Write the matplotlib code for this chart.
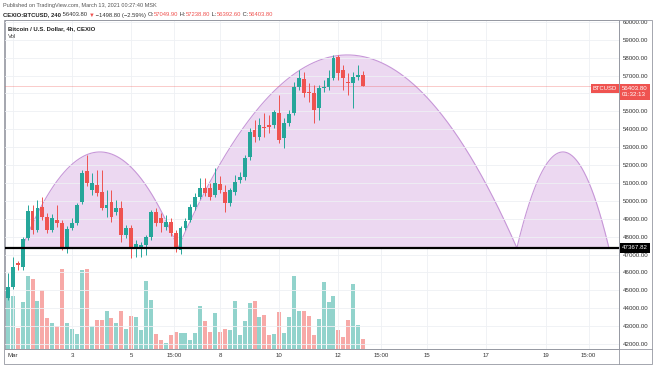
import numpy as np
import matplotlib
matplotlib.use('Agg')
import matplotlib.pyplot as plt
from matplotlib import transforms
from matplotlib.patches import Rectangle
from matplotlib.lines import Line2D

plt.rcParams['font.family'] = ['Liberation Sans', 'DejaVu Sans']

# 4h candles, first one is Feb 28 20:00, last one Mar 12 20:00
opens = [44570, 45185, 46525, 46300, 47920, 49430, 48370, 49650, 49095, 48370,
         48930, 48760, 47420, 48480, 48760, 49930, 51665, 50600, 50880, 50490,
         49600, 49930, 49375, 49600, 48090, 48480, 47420, 47420, 47530, 47980,
         49375, 49040, 48540, 48820, 48200, 47250, 48480, 48930, 49650, 50210,
         50720, 50720, 50325, 50940, 50490, 49880, 50490, 51160, 51330, 52450,
         53960, 53565, 54125, 54236, 54236, 54906, 53510, 54350, 54906, 56360,
         56806, 56080, 56023, 55185, 56303, 56360, 56861, 58035, 57308, 56638,
         56582, 56917, 57049.90]
closes = [45185, 46300, 46414, 47866, 49430, 48370, 49600, 49095, 48370, 49040,
          48760, 47364, 48425, 48760, 49766, 51554, 50995, 50995, 50436, 49600,
          49766, 49095, 49600, 48090, 48480, 47420, 47587, 47531, 47980, 49375,
          48760, 48760, 48816, 48200, 47420, 48480, 48872, 49654, 50213, 50716,
          50436, 50213, 50995, 50604, 49878, 50604, 51051, 51330, 52392, 53844,
          53565, 54236, 54068, 54124, 54962, 53397, 54347, 54850, 56359, 56861,
          56023, 56023, 55074, 56303, 56359, 56861, 57979, 57141, 56861, 56582,
          56917, 57029, 56403.80]
highs = [45970, 46860, 46640, 47980, 49770, 49770, 50045, 50213, 49320, 49263,
         49766, 48928, 48592, 49040, 49878, 51721, 52559, 51554, 51721, 51721,
         50604, 50604, 50045, 49990, 48648, 48648, 47810, 47699, 48090, 49486,
         49598, 49320, 49207, 49040, 48369, 48592, 49040, 49822, 50436, 51274,
         51274, 50995, 51833, 51386, 50883, 50716, 51442, 51609, 52559, 54068,
         54515, 54627, 54906, 54794, 55074, 55912, 54627, 55074, 56638, 57308,
         57197, 56582, 56470, 56470, 56750, 57308, 58146, 58146, 57588, 57141,
         57197, 57588, 57238.80]
lows = [44460, 45070, 46134, 46134, 47810, 48146, 48258, 48928, 48202, 48258,
        48537, 47252, 47084, 48369, 48648, 49822, 50827, 50325, 50269, 49486,
        49095, 48816, 49207, 47699, 47922, 46805, 46861, 46861, 46973, 47810,
        48593, 48258, 48369, 48034, 47140, 47028, 48369, 48816, 49486, 50101,
        50269, 50045, 50213, 50436, 49375, 49710, 50325, 50995, 51163, 52280,
        53286, 53397, 53565, 53788, 54068, 53230, 52950, 54180, 54794, 56191,
        55800, 55520, 54347, 54515, 56079, 56191, 56750, 56750, 56191, 55912,
        55185, 56750, 56392.60]
volumes = [155, 160, 65, 142, 222, 214, 147, 180, 93, 80,
           70, 242, 80, 60, 45, 240, 242, 70, 88, 88,
           117, 95, 80, 115, 62, 100, 97, 59, 207, 149,
           45, 27, 19, 42, 53, 50, 50, 28, 50, 130,
           85, 52, 110, 53, 60, 59, 145, 42, 85, 140,
           145, 97, 103, 42, 47, 112, 50, 97, 222, 114,
           115, 99, 42, 92, 203, 142, 161, 57, 35, 88,
           197, 72, 30]

price_ticks = list(range(42000, 60001, 1000))
day_ticks = [0, 2, 4, 5.45, 7, 9, 11, 12.45, 14, 16, 18, 19.45]
day_labels = ['Mar', '3', '5', '15:00', '8', '10', '12', '15:00', '15', '17', '19', '15:00']

level = 47367.82
last_price = 56403.80
# arc drawings: start day, end day, top price
arcs = [(0.31, 5.58, 52730), (5.58, 17.03, 58150), (17.03, 20.14, 52730)]

up, down = '#26a69a', '#ef5350'
up_v, down_v = '#92d3cc', '#f7a9a7'

W, H = 654, 366
fig = plt.figure(figsize=(W / 100, H / 100), dpi=100)
fx = lambda px: px / W
fy = lambda py: 1 - py / H

t = (np.arange(len(opens)) - 1) / 6
o = np.array(opens); c = np.array(closes)
is_up = c >= o

ax_v = fig.add_axes([fx(5), fy(349), fx(614), 329 / H])
ax = ax_v.twinx()

ax_v.bar(t, volumes, width=0.8 / 6, color=np.where(is_up, up_v, down_v), zorder=1)
ax_v.set_ylim(0, 1000)
ax_v.set_yticks([])
ax_v.set_xlim(-0.2635, 20.48)
ax_v.set_xticks(day_ticks)
ax_v.set_xticklabels(day_labels)
ax_v.tick_params(axis='x', length=0, pad=3, labelsize=4.4, labelcolor='#333')
ax_v.grid(axis='x', color='#eef0f4', lw=0.6)
for s in ax_v.spines.values():
    s.set_color('#9598a1'); s.set_linewidth(0.6)

for a, b, top in arcs:
    tt = np.linspace(a, b, 300)
    u = (2 * tt - a - b) / (b - a)
    yy = level + (top - level) * (1 - u ** 2)
    ax.fill_between(tt, level, yy, color='#ecd8f1', lw=0, zorder=1)
    ax.plot(tt, yy, color='#c797d8', lw=0.8, zorder=1.5)

cols = np.where(is_up, up, down)
ax.vlines(t, lows, highs, colors=cols, lw=0.7, zorder=3)
ax.bar(t, np.maximum(np.abs(c - o), 25), bottom=np.minimum(o, c), width=0.78 / 6,
       color=cols, zorder=3.5)

ax.axhline(level, color='black', lw=1.6, zorder=4)
ax.axhline(last_price, color=down, lw=0.6, alpha=0.35, zorder=2)

ax.set_ylim(41721, 60102)
ax.set_yticks(price_ticks)
# the 56000 label sits under the last price tag
ax.set_yticklabels(['' if v == 56000 else f'{v:.2f}' for v in price_ticks])
ax.tick_params(axis='y', length=0, pad=3, labelsize=4.4, labelcolor='#333')
ax.grid(axis='y', color='#eef0f4', lw=0.6, zorder=0)
for s in ax.spines.values():
    s.set_visible(False)

# frame around chart and the price/time scales
fig.add_artist(Rectangle((fx(4), fy(364)), 648 / W, 344 / H, transform=fig.transFigure,
                         fill=False, ec='#9598a1', lw=0.6))
fig.add_artist(Line2D([fx(619)] * 2, [fy(20), fy(364)], color='#9598a1', lw=0.6))
fig.add_artist(Line2D([fx(5), fx(652)], [fy(349)] * 2, color='#9598a1', lw=0.6))

# scale labels
tr = transforms.blended_transform_factory(fig.transFigure, ax.transData)
ax.text(fx(622), level, f'{level:.2f}', transform=tr, fontsize=4.4, color='white',
        va='center', ha='left', bbox=dict(boxstyle='square,pad=0.35', fc='black', ec='none'))
ax.text(fx(622), last_price, f'{last_price:.2f}\n01:32:13', transform=tr, fontsize=4.4,
        color='white', va='top', ha='left', linespacing=1.3,
        bbox=dict(boxstyle='square,pad=0.35', fc=down, ec='none'))
ax.text(fx(617), last_price, 'BTCUSD', transform=tr, fontsize=4.2, color='white',
        va='top', ha='right', bbox=dict(boxstyle='square,pad=0.35', fc=down, ec='none'))

# header
fig.text(fx(3), fy(6), 'Published on TradingView.com, March 13, 2021 00:27:40 MSK',
         fontsize=4, color='#555', va='center')
parts = [('CEXIO:BTCUSD, 240', '#222'), (' 56403.80 ', '#333'), ('▼', down),
         (' −1498.80 (−2.59%) ', '#333'), ('O:', '#333'), ('57049.90', down),
         (' H:', '#333'), ('57238.80', down), (' L:', '#333'), ('56392.60', down),
         (' C:', '#333'), ('56403.80', down)]
prev = fig.text(fx(3), fy(15), parts[0][0], fontsize=4.2, color=parts[0][1],
                va='center', weight='bold')
for s, col in parts[1:]:
    prev = ax.annotate(s, xy=(1, 0), xycoords=prev, va='bottom', ha='left',
                       fontsize=4.2, color=col, annotation_clip=False)

fig.text(fx(8), fy(29), 'Bitcoin / U.S. Dollar, 4h, CEXIO', fontsize=4.3, weight='bold',
         color='#222', va='center')
fig.text(fx(8), fy(37), 'Vol', fontsize=4.3, color='#444', va='center')

fig.savefig('out.png', dpi=100)
